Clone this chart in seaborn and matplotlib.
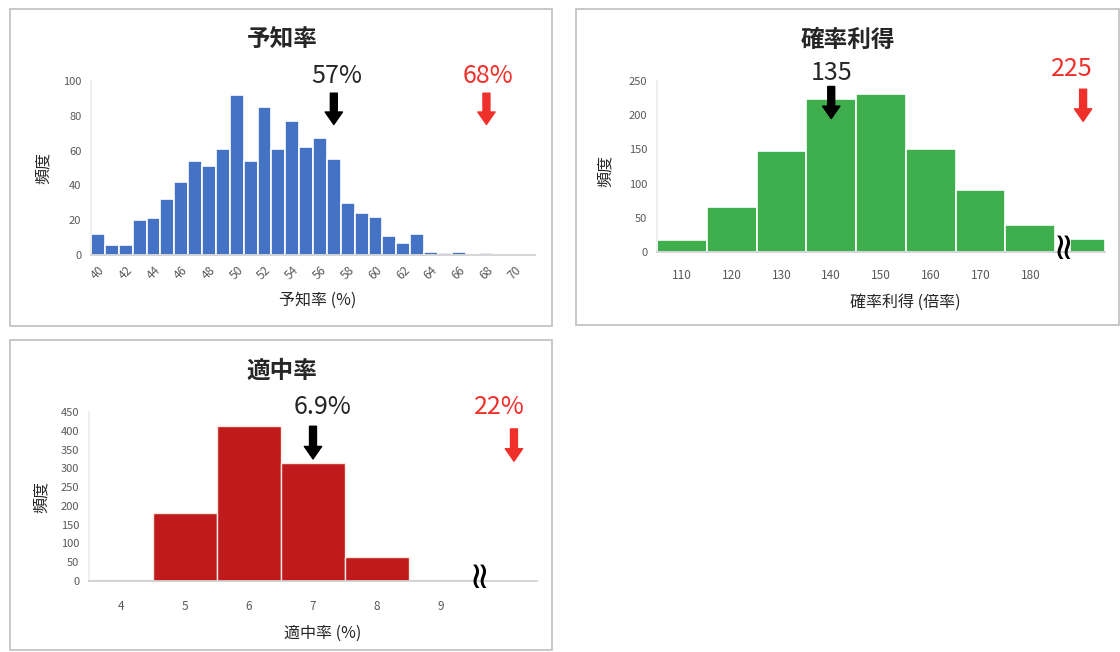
import seaborn as sns
import matplotlib.pyplot as plt
from matplotlib.patches import Rectangle

# 予知率
yochi_x = list(range(40, 72))
yochi_n = [12, 6, 6, 20, 21, 32, 42, 54, 51, 61, 92, 54, 85, 61, 77, 62,
           67, 55, 30, 24, 22, 11, 7, 12, 2, 1, 2, 0, 1, 0, 0, 0]
yochi_ticks = list(range(40, 72, 2))

# 確率利得 (last bin is the one past the break)
kaku_x = [110, 120, 130, 140, 150, 160, 170, 180, 191.5]
kaku_n = [17, 66, 147, 224, 231, 150, 90, 40, 19]
kaku_edges = [105, 115, 125, 135, 145, 155, 165, 175, 185, 188, 195]
kaku_ticks = [110, 120, 130, 140, 150, 160, 170, 180]

# 適中率
tekichu_x = [4, 5, 6, 7, 8, 9]
tekichu_n = [3, 182, 413, 313, 65, 2]
tekichu_ticks = [4, 5, 6, 7, 8, 9]

W, H = 1120, 652
sns.set_theme(style='white')
plt.rcParams['font.family'] = ['Noto Sans CJK JP', 'DejaVu Sans']

fig = plt.figure(figsize=(W / 100, H / 100), dpi=100)


def px_axes(x0, x1, ytop, ybot):
    return fig.add_axes([x0 / W, 1 - ybot / H, (x1 - x0) / W, (ybot - ytop) / H])


def box(x0, x1, y0, y1):
    fig.add_artist(Rectangle((x0 / W, 1 - y1 / H), (x1 - x0) / W, (y1 - y0) / H,
                             transform=fig.transFigure, fill=False,
                             edgecolor='#c4c4c4', lw=1.3))


def style(ax, ticks, pad_x):
    for s in ['top', 'right']:
        ax.spines[s].set_visible(False)
    ax.spines['bottom'].set_color('#d0d0d0')
    ax.spines['left'].set_color('#ececec')
    ax.tick_params(axis='y', length=0, pad=7, labelsize=8, labelcolor='#595959')
    ax.tick_params(axis='x', length=0, pad=pad_x, labelsize=8.5, labelcolor='#595959')
    ax.set_xticks(ticks)
    ax.set_xlabel('')
    ax.set_ylabel('')


def arrow(ax, x, y0, y1, color):
    ax.annotate('', xy=(x, y1), xytext=(x, y0), annotation_clip=False,
                arrowprops=dict(arrowstyle='simple,head_width=1.25,head_length=0.9,tail_width=0.5',
                                color=color, mutation_scale=10, shrinkA=0, shrinkB=0))


def breakmark(ax, x, y):
    ax.text(x, y, '≈', rotation=90, ha='center', va='center', fontsize=27,
            color='black', family='DejaVu Sans', clip_on=False, zorder=5)


box(10, 552, 9, 326)
box(576, 1119, 9, 325)
box(10, 552, 340, 650)

red = '#f0302a'

# --- panel 1
ax1 = px_axes(91, 535, 81, 255)
sns.histplot(x=yochi_x, weights=yochi_n, bins=[v - 0.5 for v in yochi_x] + [71.5],
             color='#4472c4', alpha=1, edgecolor='white', linewidth=1.2, ax=ax1)
ax1.set_xlim(39.5, 71.5)
ax1.set_ylim(0, 100)
ax1.set_yticks(range(0, 101, 20))
style(ax1, yochi_ticks, 6)
for lab in ax1.get_xticklabels():
    lab.set_rotation(45)
    lab.set_ha('right')
    lab.set_rotation_mode('anchor')
arrow(ax1, 57, 93, 75, 'black')
ax1.text(57.2, 103, '57%', ha='center', va='center', fontsize=18, clip_on=False)
arrow(ax1, 68, 93, 75, red)
ax1.text(68.1, 103, '68%', ha='center', va='center', fontsize=18, color=red, clip_on=False)
fig.text(282 / W, 1 - 40 / H, '予知率', ha='center', va='center', fontsize=17, fontweight='bold')
fig.text(318 / W, 1 - 300 / H, '予知率 (%)', ha='center', va='center', fontsize=11.5)
fig.text(43 / W, 1 - 168 / H, '頻度', ha='center', va='center', fontsize=11.5, rotation=90)

# --- panel 2
ax2 = px_axes(657, 1105, 81, 252)
sns.histplot(x=kaku_x, weights=kaku_n, bins=kaku_edges,
             color='#3fae4c', alpha=1, edgecolor='white', linewidth=1.2, ax=ax2)
ax2.set_xlim(105, 195)
ax2.set_ylim(0, 250)
ax2.set_yticks(range(0, 251, 50))
style(ax2, kaku_ticks, 12)
breakmark(ax2, 186.6, 12)
arrow(ax2, 140, 242, 195, 'black')
ax2.text(140, 262, '135', ha='center', va='center', fontsize=18, clip_on=False)
arrow(ax2, 190.6, 238, 191, red)
ax2.text(188.4, 267, '225', ha='center', va='center', fontsize=18, color=red, clip_on=False)
fig.text(848 / W, 1 - 40 / H, '確率利得', ha='center', va='center', fontsize=17, fontweight='bold')
fig.text(905 / W, 1 - 302 / H, '確率利得 (倍率)', ha='center', va='center', fontsize=11.5)
fig.text(605 / W, 1 - 171 / H, '頻度', ha='center', va='center', fontsize=11.5, rotation=90)

# --- panel 3
ax3 = px_axes(89, 537, 412, 581)
sns.histplot(x=tekichu_x, weights=tekichu_n, bins=[v - 0.5 for v in tekichu_x] + [9.5],
             color='#c01a1c', alpha=1, edgecolor='#fbe9e0', linewidth=1.0, ax=ax3)
ax3.set_xlim(3.5, 10.5)
ax3.set_ylim(0, 450)
ax3.set_yticks(range(0, 451, 50))
style(ax3, tekichu_ticks, 14)
breakmark(ax3, 9.6, 22)
arrow(ax3, 7.0, 412, 325, 'black')
ax3.text(7.15, 462, '6.9%', ha='center', va='center', fontsize=18, clip_on=False)
arrow(ax3, 10.14, 405, 319, red)
ax3.text(9.92, 462, '22%', ha='center', va='center', fontsize=18, color=red, clip_on=False)
fig.text(282 / W, 1 - 371 / H, '適中率', ha='center', va='center', fontsize=17, fontweight='bold')
fig.text(323 / W, 1 - 633 / H, '適中率 (%)', ha='center', va='center', fontsize=11.5)
fig.text(41 / W, 1 - 497 / H, '頻度', ha='center', va='center', fontsize=11.5, rotation=90)

fig.savefig('out.png', dpi=100)
